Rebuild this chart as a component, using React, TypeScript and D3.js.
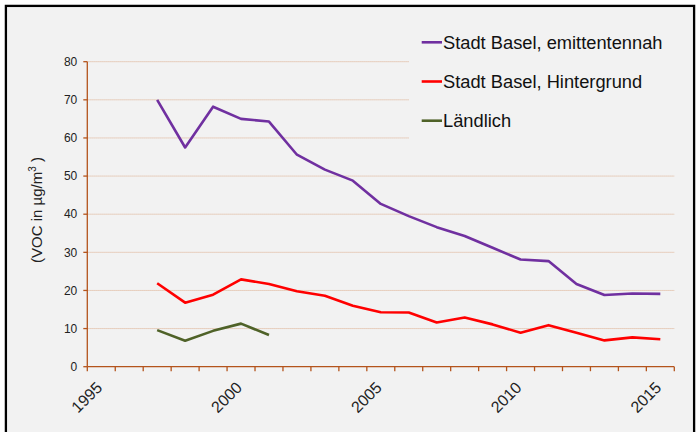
import React from "react";
import * as d3 from "d3";

const years = d3.range(1995, 2016);
const tickLabelYears = [1995, 2000, 2005, 2010, 2015];
const yTicks = [0, 10, 20, 30, 40, 50, 60, 70, 80];

const purpleYears = d3.range(1997, 2016);
const purpleValues = [70, 57.5, 68.2, 65, 64.3, 55.6, 51.7, 48.8, 42.7, 39.5, 36.6, 34.3, 31.2, 28.1, 27.7, 21.7, 18.8, 19.2, 19.1];

const redYears = d3.range(1997, 2016);
const redValues = [21.9, 16.8, 18.9, 22.9, 21.7, 19.8, 18.6, 16.0, 14.3, 14.2, 11.6, 12.9, 11.1, 8.9, 10.9, 8.9, 6.9, 7.7, 7.2];

const greenYears = d3.range(1997, 2002);
const greenValues = [9.6, 6.8, 9.4, 11.3, 8.3];

const seriesNames = ["Stadt Basel, emittentennah", "Stadt Basel, Hintergrund", "Ländlich"];
const seriesColors = ["#7030a0", "#ff0000", "#4f6228"];

export default function App() {
  const W = 696, H = 432;
  const x0 = 87.3, x1 = 674.3;
  const yTop = 61.7, yBot = 366.7;
  const axisColor = "#b4541c";
  const gridColor = "#e3c3ad";

  const x = d3.scaleBand<number>().domain(years).range([x0, x1]).padding(0);
  const y = d3.scaleLinear().domain([0, 80]).range([yBot, yTop]);
  const cx = (yr: number) => (x(yr) as number) + x.bandwidth() / 2;

  const line = d3.line<[number, number]>().x(d => cx(d[0])).y(d => y(d[1]));
  const series = [
    { yrs: purpleYears, vals: purpleValues },
    { yrs: redYears, vals: redValues },
    { yrs: greenYears, vals: greenValues },
  ];

  const boundaries = years.map(yr => x(yr) as number).concat([x1]);
  const font = "Liberation Sans, Arial, sans-serif";

  return (
    <svg width={W} height={H} style={{ position: "absolute", left: 0, top: 0 }} fontFamily={font}>
      <rect x={0} y={0} width={W} height={H} fill="#ffffff" />
      <rect x={5.9} y={5.9} width={688.2} height={H} fill="#f2f2f2" stroke="#000" strokeWidth={2.3} />

      {yTicks.filter(t => t > 0).map(t => (
        <line key={"g" + t} x1={x0} x2={x1} y1={y(t)} y2={y(t)} stroke={gridColor} strokeWidth={1} strokeDasharray="1.5 0.5" />
      ))}

      <rect x={409} y={22} width={282} height={128} fill="#f2f2f2" />

      {/* y axis */}
      <line x1={x0} x2={x0} y1={yTop} y2={yBot} stroke={axisColor} strokeWidth={1.3} />
      {yTicks.map(t => (
        <g key={"yt" + t}>
          <line x1={x0 - 4} x2={x0} y1={y(t)} y2={y(t)} stroke={axisColor} strokeWidth={1.3} />
          <text x={x0 - 10} y={y(t)} dy="0.35em" textAnchor="end" fontSize={12} fill="#222">{t}</text>
        </g>
      ))}

      {/* x axis */}
      <line x1={x0} x2={x1} y1={yBot} y2={yBot} stroke={axisColor} strokeWidth={1.3} />
      {boundaries.map((bx, i) => (
        <line key={"xt" + i} x1={bx} x2={bx} y1={yBot} y2={yBot + 4.5} stroke={axisColor} strokeWidth={1.3} />
      ))}
      {tickLabelYears.map(yr => (
        <text key={"xl" + yr} transform={`translate(${cx(yr) + 2},${yBot + 22}) rotate(-45)`} textAnchor="end" fontSize={16} fill="#222">{yr}</text>
      ))}

      {/* y label */}
      <text transform={`translate(42,210) rotate(-90)`} textAnchor="middle" fontSize={15} fill="#222">
        (VOC in µg/m<tspan fontSize={10} dy={-6}>3</tspan><tspan dy={6}> )</tspan>
      </text>

      {/* series */}
      {series.map((s, i) => (
        <path key={"s" + i} d={line(s.yrs.map((yr, j) => [yr, s.vals[j]] as [number, number])) || ""} fill="none" stroke={seriesColors[i]} strokeWidth={2.6} strokeLinejoin="round" />
      ))}

      {/* legend */}
      {seriesNames.map((n, i) => {
        const ly = 42.3 + i * 39.2;
        return (
          <g key={"lg" + i}>
            <line x1={421.7} x2={442} y1={ly} y2={ly} stroke={seriesColors[i]} strokeWidth={2.6} />
            <text x={443} y={ly} dy="0.35em" fontSize={18.3} fill="#111">{n}</text>
          </g>
        );
      })}
    </svg>
  );
}
